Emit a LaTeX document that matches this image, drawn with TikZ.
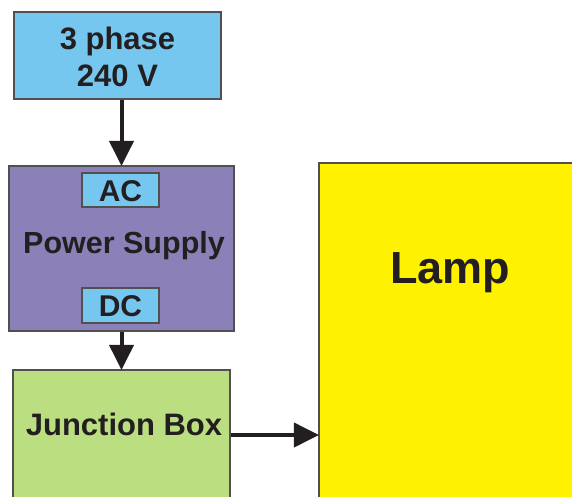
\documentclass[tikz,border=0pt]{standalone}
\usepackage{fontspec}
\setmainfont{Liberation Sans}
\usetikzlibrary{arrows.meta}
\definecolor{boxblue}{HTML}{76C7F0}
\definecolor{boxpurple}{HTML}{8C80B9}
\definecolor{boxgreen}{HTML}{BBDE81}
\definecolor{boxyellow}{HTML}{FFF200}
\definecolor{edge}{HTML}{505050}
\definecolor{ink}{HTML}{231F20}
\tikzset{
  blk/.style={draw=edge, line width=1.1pt, rectangle, inner sep=0pt, anchor=center},
  lbl/.style={text=ink, font=\bfseries\fontsize{31}{37}\selectfont, align=center, inner sep=0pt},
  arr/.style={draw=ink, line width=4pt, -{Triangle[length=25pt,width=24pt]}, shorten >=-0.5pt}
}
\begin{document}
\begin{tikzpicture}[x=1pt,y=-1pt]
\useasboundingbox (0,0) rectangle (572,496);
\clip (0,0) rectangle (572,496);
\node[blk, fill=boxblue, minimum width=207pt, minimum height=87pt] (src) at (117.5,55.5) {};
\node[lbl] (srct) at (117.5,57) {3 phase\\240 V};
\node[blk, fill=boxpurple, minimum width=225pt, minimum height=165pt] (ps) at (121.5,248.5) {};
\node[blk, fill=boxblue, minimum width=77pt, minimum height=34pt] (ac) at (120.5,190) {};
\node[lbl, font=\bfseries\fontsize{30}{36}\selectfont] (act) at (120.5,191) {AC};
\node[lbl, font=\bfseries\fontsize{30.5}{36}\selectfont] (pst) at (124,246) {Power Supply};
\node[blk, fill=boxblue, minimum width=77pt, minimum height=35pt] (dc) at (120.5,305.5) {};
\node[lbl, font=\bfseries\fontsize{30}{36}\selectfont] (dct) at (120.5,306.5) {DC};
\node[blk, fill=boxgreen, minimum width=217pt, minimum height=160pt] (jb) at (121.5,450) {};
\node[lbl] (jbt) at (124,424) {Junction Box};
\node[blk, fill=boxyellow, minimum width=280pt, minimum height=360pt] (lamp) at (459,343) {};
\node[lbl, font=\bfseries\fontsize{45}{50}\selectfont] (lampt) at (450,273) {Lamp};
\coordinate (hy) at (0,435);
\draw[arr] (ps.north |- src.south) -- (ps.north);
\draw[arr] (ps.south) -- (jb.north);
\draw[arr] (jb.east |- hy) -- (lamp.west |- hy);
\end{tikzpicture}
\end{document}
